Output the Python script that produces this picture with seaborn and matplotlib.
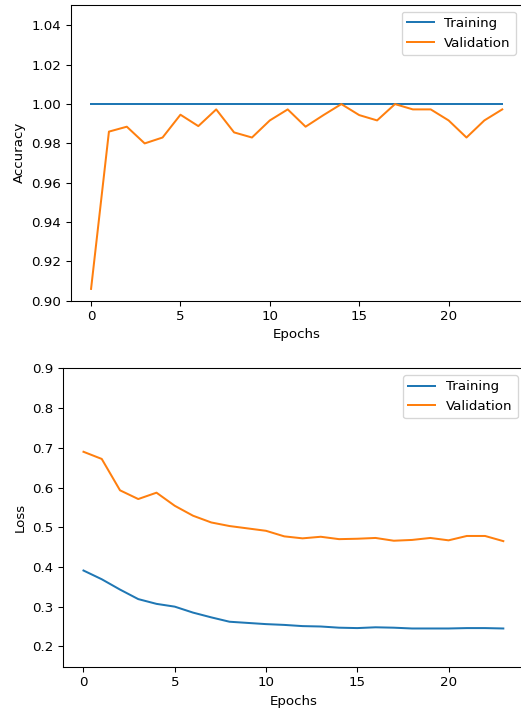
import numpy as np
import pandas as pd
import matplotlib
matplotlib.use("Agg")
import matplotlib.pyplot as plt
import seaborn as sns

# Training history per epoch
epochs = list(range(24))

train_acc = [1.0] * 24
val_acc = [0.906, 0.986, 0.9885, 0.980, 0.983, 0.9946, 0.9888, 0.9973,
           0.9856, 0.983, 0.9917, 0.9973, 0.9885, 0.9944, 1.0, 0.9944,
           0.9917, 1.0, 0.9973, 0.9973, 0.9917, 0.983, 0.9917, 0.9973]

train_loss = [0.391, 0.369, 0.343, 0.319, 0.307, 0.300, 0.285, 0.273,
              0.262, 0.259, 0.256, 0.254, 0.251, 0.250, 0.247, 0.246,
              0.248, 0.247, 0.245, 0.245, 0.245, 0.246, 0.246, 0.245]
val_loss = [0.690, 0.672, 0.593, 0.571, 0.587, 0.554, 0.529, 0.512,
            0.503, 0.497, 0.491, 0.477, 0.472, 0.476, 0.470, 0.471,
            0.473, 0.466, 0.468, 0.473, 0.467, 0.478, 0.478, 0.465]

series_labels = ["Training", "Validation"]
colors = ["#1f77b4", "#ff7f0e"]

plt.rcParams.update({
    "font.family": ["DejaVu Sans"],
    "font.size": 10,
})

W, H, DPI = 521, 710, 96
fig = plt.figure(figsize=(W / DPI, H / DPI), dpi=DPI)


def px_axes(left, right, top, bottom):
    return fig.add_axes([left / W, 1 - bottom / H, (right - left) / W, (bottom - top) / H])


# the right edge of both panels runs just past the canvas
ax1 = px_axes(70.5, 522.8, 5.0, 300.7)
ax2 = px_axes(62.5, 524.3, 368.4, 667.0)

acc = pd.DataFrame({"epoch": epochs, "Training": train_acc, "Validation": val_acc})
loss = pd.DataFrame({"epoch": epochs, "Training": train_loss, "Validation": val_loss})

for ax, df, ylabel in [(ax1, acc, "Accuracy"), (ax2, loss, "Loss")]:
    for name, c in zip(series_labels, colors):
        sns.lineplot(data=df, x="epoch", y=name, color=c, linewidth=1.5,
                     label=name, ax=ax)
    ax.set_xlabel("Epochs")
    ax.set_ylabel(ylabel)
    ax.set_xticks([0, 5, 10, 15, 20])
    ax.spines["right"].set_visible(False)
    ax.legend(loc="upper right")

ax1.set_ylim(0.90, 1.0504)
ax1.set_yticks([0.90, 0.92, 0.94, 0.96, 0.98, 1.00, 1.02, 1.04])
ax1.set_yticklabels([f"{v:.2f}" for v in [0.90, 0.92, 0.94, 0.96, 0.98, 1.00, 1.02, 1.04]])
ax2.set_ylim(0.148, 0.9)
ax2.set_yticks([0.2, 0.3, 0.4, 0.5, 0.6, 0.7, 0.8, 0.9])

fig.savefig("out.png", dpi=DPI)
